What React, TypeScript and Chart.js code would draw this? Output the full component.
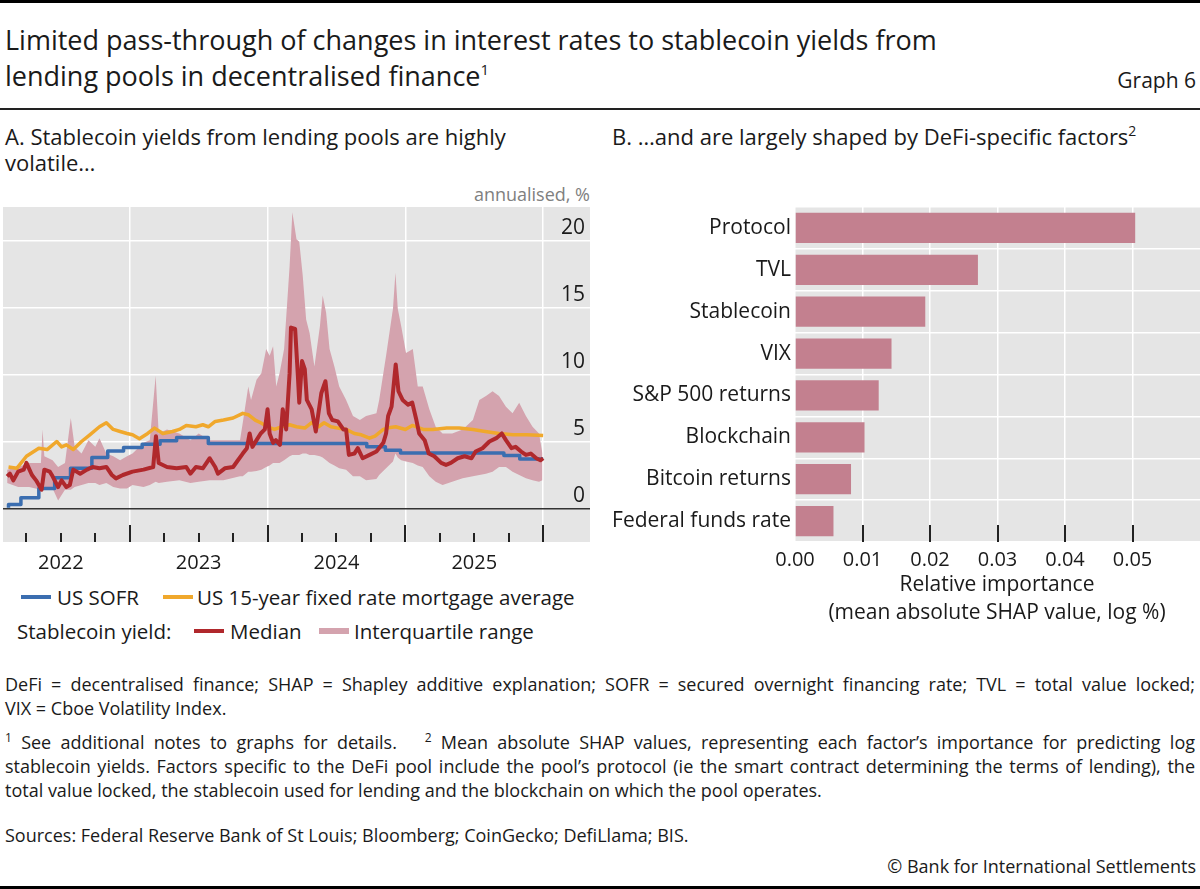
import React, { useEffect, useRef } from "react";
import { Chart, registerables } from "chart.js";

Chart.register(...registerables);

const FONT = '"Open Sans", "Noto Sans", sans-serif';
const INK = "#1a1a1a";

// Panel A – dates as decimal years, values in % annualised
const sofrDates = [2022.12, 2022.21, 2022.34, 2022.455, 2022.57, 2022.725, 2022.84, 2022.955, 2023.09, 2023.22, 2023.34, 2023.57, 2024.72, 2024.855, 2024.965, 2025.715, 2025.83, 2025.945, 2026.0];
const sofrRate = [0.05, 0.3, 0.8, 1.5, 2.3, 3.0, 3.8, 4.3, 4.55, 4.8, 5.05, 5.3, 4.85, 4.6, 4.35, 4.15, 3.95, 3.7, 3.7];

const mortgageDates = [2022.12, 2022.18, 2022.25, 2022.34, 2022.4, 2022.47, 2022.505, 2022.54, 2022.59, 2022.65, 2022.71, 2022.78, 2022.83, 2022.88, 2022.93, 2022.98, 2023.02, 2023.07, 2023.13, 2023.18, 2023.24, 2023.31, 2023.36, 2023.41, 2023.48, 2023.53, 2023.57, 2023.62, 2023.68, 2023.75, 2023.82, 2023.86, 2023.91, 2023.95, 2024.0, 2024.05, 2024.1, 2024.16, 2024.21, 2024.27, 2024.32, 2024.37, 2024.41, 2024.46, 2024.51, 2024.57, 2024.63, 2024.68, 2024.74, 2024.78, 2024.84, 2024.89, 2024.93, 2025.0, 2025.05, 2025.13, 2025.2, 2025.3, 2025.39, 2025.49, 2025.58, 2025.68, 2025.78, 2025.88, 2026.0];
const mortgageRate = [3.1, 3.0, 3.9, 4.5, 4.4, 5.0, 4.6, 4.75, 4.4, 5.0, 5.5, 6.1, 6.4, 5.9, 5.75, 5.6, 5.5, 5.2, 5.6, 6.0, 5.6, 5.75, 5.9, 6.2, 6.1, 6.25, 6.1, 6.5, 6.6, 6.75, 7.1, 7.0, 6.6, 6.4, 6.1, 5.9, 6.1, 6.25, 6.1, 6.0, 6.4, 6.1, 6.4, 6.1, 6.0, 5.9, 5.6, 5.5, 5.25, 5.4, 5.9, 6.05, 6.1, 5.9, 6.2, 5.9, 5.9, 6.0, 6.0, 5.9, 5.75, 5.6, 5.5, 5.5, 5.45];

const medianDates = [2022.11, 2022.13, 2022.155, 2022.19, 2022.23, 2022.25, 2022.29, 2022.32, 2022.36, 2022.38, 2022.42, 2022.44, 2022.48, 2022.505, 2022.54, 2022.565, 2022.59, 2022.64, 2022.69, 2022.73, 2022.78, 2022.83, 2022.87, 2022.9, 2022.95, 2023.02, 2023.1, 2023.17, 2023.19, 2023.21, 2023.27, 2023.34, 2023.41, 2023.44, 2023.48, 2023.53, 2023.58, 2023.62, 2023.64, 2023.69, 2023.75, 2023.785, 2023.82, 2023.85, 2023.87, 2023.89, 2023.92, 2023.95, 2023.98, 2024.0, 2024.015, 2024.04, 2024.06, 2024.09, 2024.11, 2024.135, 2024.16, 2024.17, 2024.2, 2024.22, 2024.23, 2024.25, 2024.27, 2024.285, 2024.32, 2024.35, 2024.39, 2024.42, 2024.445, 2024.47, 2024.51, 2024.55, 2024.57, 2024.59, 2024.63, 2024.655, 2024.69, 2024.74, 2024.79, 2024.84, 2024.86, 2024.875, 2024.9, 2024.93, 2024.95, 2024.98, 2025.02, 2025.05, 2025.08, 2025.1, 2025.14, 2025.17, 2025.21, 2025.26, 2025.295, 2025.33, 2025.38, 2025.43, 2025.48, 2025.51, 2025.56, 2025.61, 2025.66, 2025.7, 2025.73, 2025.77, 2025.8, 2025.84, 2025.875, 2025.91, 2025.95, 2025.98, 2026.0];
const medianYield = [2.4, 2.6, 2.1, 2.75, 2.9, 3.4, 2.5, 2.1, 1.4, 2.9, 2.75, 2.4, 1.6, 2.1, 1.6, 1.75, 2.9, 2.6, 2.9, 3.1, 3.0, 3.1, 2.5, 2.25, 2.5, 2.75, 2.9, 3.1, 5.4, 3.4, 3.1, 3.0, 3.1, 2.6, 3.1, 3.0, 3.75, 3.1, 2.6, 3.0, 3.1, 3.6, 4.1, 4.5, 5.6, 4.6, 5.1, 5.6, 5.9, 7.4, 5.6, 4.9, 5.1, 4.75, 7.4, 5.9, 10.1, 13.5, 13.4, 9.9, 7.9, 11.0, 10.4, 8.1, 7.4, 5.75, 8.6, 9.5, 7.1, 6.6, 6.5, 5.9, 5.9, 4.0, 4.1, 4.5, 3.75, 4.0, 4.25, 4.9, 5.6, 6.9, 7.6, 10.75, 8.75, 8.1, 7.75, 7.9, 6.6, 5.6, 5.1, 4.1, 3.9, 3.4, 3.25, 3.4, 3.75, 3.9, 3.75, 4.25, 4.5, 5.0, 5.25, 5.6, 5.1, 4.5, 4.6, 4.25, 4.0, 4.1, 3.75, 3.6, 3.75];

const iqrDates = [2022.11, 2022.19, 2022.27, 2022.355, 2022.367, 2022.38, 2022.44, 2022.48, 2022.53, 2022.572, 2022.6, 2022.65, 2022.7, 2022.75, 2022.78, 2022.83, 2022.88, 2022.93, 2022.98, 2023.02, 2023.1, 2023.145, 2023.188, 2023.21, 2023.27, 2023.36, 2023.44, 2023.5, 2023.58, 2023.68, 2023.8, 2023.82, 2023.86, 2023.88, 2023.92, 2023.955, 2023.99, 2024.015, 2024.04, 2024.063, 2024.087, 2024.12, 2024.16, 2024.18, 2024.21, 2024.23, 2024.255, 2024.28, 2024.305, 2024.34, 2024.38, 2024.4, 2024.425, 2024.45, 2024.485, 2024.52, 2024.57, 2024.62, 2024.67, 2024.715, 2024.79, 2024.81, 2024.86, 2024.91, 2024.928, 2024.945, 2024.97, 2025.005, 2025.054, 2025.09, 2025.126, 2025.174, 2025.22, 2025.27, 2025.34, 2025.416, 2025.49, 2025.537, 2025.585, 2025.633, 2025.68, 2025.73, 2025.778, 2025.826, 2025.875, 2025.923, 2025.97, 2025.995];
const iqrUpper = [2.9, 3.1, 3.4, 3.4, 5.9, 3.9, 3.6, 3.1, 3.4, 6.75, 4.6, 4.1, 5.1, 4.6, 5.25, 4.1, 3.9, 3.6, 3.9, 4.1, 4.9, 5.1, 9.9, 5.6, 5.9, 5.6, 5.1, 5.6, 5.1, 5.1, 5.1, 6.4, 9.1, 8.1, 9.6, 10.1, 11.9, 11.4, 12.1, 9.1, 10.1, 11.9, 18.1, 22.1, 20.1, 19.9, 17.4, 14.1, 13.1, 10.6, 13.6, 15.9, 14.6, 11.9, 10.6, 9.1, 8.1, 6.9, 6.6, 6.9, 7.1, 8.1, 11.4, 14.9, 17.6, 14.9, 13.6, 11.6, 11.9, 9.1, 9.1, 7.4, 6.1, 5.6, 5.6, 5.9, 6.6, 8.1, 8.4, 8.75, 8.4, 7.6, 7.1, 7.9, 6.9, 6.1, 5.6, 4.1];
const iqrLower = [1.9, 1.6, 1.6, 1.4, 1.25, 1.6, 1.5, 0.6, 1.4, 1.4, 1.6, 1.75, 1.9, 1.9, 1.75, 1.9, 1.6, 1.5, 1.5, 1.75, 1.6, 1.75, 2.0, 1.9, 2.0, 2.1, 1.9, 2.0, 2.1, 2.1, 2.4, 2.4, 2.75, 2.75, 2.8, 2.9, 3.1, 3.2, 3.4, 3.4, 3.4, 3.6, 3.9, 4.0, 4.0, 4.0, 4.1, 4.1, 4.0, 4.0, 3.9, 3.8, 3.6, 3.4, 3.2, 3.0, 2.9, 2.4, 2.4, 2.1, 2.2, 2.5, 3.0, 3.5, 4.1, 3.8, 3.6, 3.5, 3.4, 3.2, 3.1, 2.4, 2.0, 1.75, 2.0, 2.25, 2.4, 2.5, 2.6, 2.75, 3.1, 3.1, 2.75, 2.5, 2.25, 2.1, 2.0, 2.1];

const quarterTicks = [2022.25, 2022.5, 2022.75, 2023.0, 2023.25, 2023.5, 2023.75, 2024.0, 2024.25, 2024.5, 2024.75, 2025.0, 2025.25, 2025.5, 2025.75, 2026.0];
const yearLabels = ["2022", "2023", "2024", "2025"];
const yieldTicks = [0, 5, 10, 15, 20];

// Panel B – mean absolute SHAP values
const factors = ["Protocol", "TVL", "Stablecoin", "VIX", "S&P 500 returns", "Blockchain", "Bitcoin returns", "Federal funds rate"];
const importance = [0.0504, 0.0271, 0.0193, 0.0143, 0.0124, 0.0103, 0.0083, 0.0057];
const importanceTicks = [0, 0.01, 0.02, 0.03, 0.04, 0.05];

const BLUE = "#3b6eb0";
const ORANGE = "#f0a82c";
const RED = "#b0282c";
const BAND = "#d4a3ae";
const BAR = "#c3808f";
const PLOT_BG = "#e5e5e5";

const pts = (xs: number[], ys: number[]) => xs.map((x, i) => ({ x, y: ys[i] }));

const panelAPlugin = {
    id: "panelA",
    beforeDraw(chart: any) {
        const { ctx, chartArea: a } = chart;
        ctx.save();
        ctx.fillStyle = PLOT_BG;
        ctx.fillRect(a.left, a.top, a.width, a.height);
        ctx.restore();
    },
    afterDraw(chart: any) {
        const { ctx, chartArea: a, scales } = chart;
        const x = scales.x;
        const y = scales.y;
        ctx.save();
        // tick marks sit inside the plot, along the bottom
        ctx.strokeStyle = "#222";
        ctx.lineWidth = 2;
        x.ticks.forEach((t: any) => {
            const px = Math.round(x.getPixelForValue(t.value));
            const major = Number.isInteger(t.value);
            ctx.beginPath();
            ctx.moveTo(px, a.bottom);
            ctx.lineTo(px, a.bottom - (major ? 17 : 9));
            ctx.stroke();
        });
        ctx.fillStyle = INK;
        ctx.font = `20px ${FONT}`;
        ctx.textAlign = "center";
        ctx.textBaseline = "middle";
        yearLabels.forEach((l) => ctx.fillText(l, x.getPixelForValue(Number(l) + 0.5), a.bottom + 21));
        ctx.font = `21px ${FONT}`;
        ctx.textAlign = "right";
        ctx.textBaseline = "alphabetic";
        y.ticks.forEach((t: any) => ctx.fillText(String(t.value), a.right - 5, y.getPixelForValue(t.value) - 7));
        ctx.restore();
    },
};

const panelBPlugin = {
    id: "panelB",
    beforeDraw(chart: any) {
        const { ctx, chartArea: a } = chart;
        ctx.save();
        ctx.fillStyle = PLOT_BG;
        ctx.fillRect(a.left, a.top, a.width, a.height);
        ctx.restore();
    },
    afterDatasetsDraw(chart: any) {
        const { ctx, chartArea: a, scales } = chart;
        ctx.save();
        ctx.strokeStyle = "#222";
        ctx.lineWidth = 2;
        importanceTicks.slice(1).forEach((v) => {
            const px = Math.round(scales.x.getPixelForValue(v));
            ctx.beginPath();
            ctx.moveTo(px, a.bottom);
            ctx.lineTo(px, a.bottom - 17);
            ctx.stroke();
        });
        ctx.restore();
    },
};

function YieldPanel() {
    const canvas = useRef<HTMLCanvasElement>(null);

    useEffect(() => {
        const chart = new Chart(canvas.current!, {
            type: "line",
            data: {
                datasets: [
                    { data: pts(medianDates, medianYield), borderColor: RED, borderWidth: 4, fill: false },
                    { data: pts(sofrDates, sofrRate), borderColor: BLUE, borderWidth: 3.5, stepped: "after", fill: false },
                    { data: pts(mortgageDates, mortgageRate), borderColor: ORANGE, borderWidth: 3.5, fill: false },
                    { data: pts(iqrDates, iqrUpper), borderColor: "transparent", borderWidth: 0, backgroundColor: BAND, fill: "+1" },
                    { data: pts(iqrDates, iqrLower), borderColor: "transparent", borderWidth: 0, backgroundColor: BAND, fill: false },
                ],
            },
            options: {
                responsive: false,
                animation: false,
                layout: { padding: { left: 3, right: 10, top: 7, bottom: 38 } },
                elements: { point: { radius: 0 }, line: { tension: 0, borderJoinStyle: "round" } },
                scales: {
                    x: {
                        type: "linear",
                        min: 2022.08,
                        max: 2026.34,
                        afterBuildTicks: (s: any) => {
                            s.ticks = quarterTicks.map((v) => ({ value: v }));
                        },
                        grid: {
                            color: (c: any) => (c.tick && Number.isInteger(c.tick.value) ? "#ffffff" : "transparent"),
                            lineWidth: 1.5,
                            drawTicks: false,
                        },
                        border: { display: false },
                        ticks: { display: false },
                    },
                    y: {
                        position: "right",
                        min: -2.5,
                        max: 22.5,
                        afterBuildTicks: (s: any) => {
                            s.ticks = yieldTicks.map((v) => ({ value: v }));
                        },
                        grid: {
                            color: (c: any) => (c.tick && c.tick.value === 0 ? "#333333" : "#ffffff"),
                            lineWidth: 1.5,
                            drawTicks: false,
                        },
                        border: { display: false },
                        ticks: { display: false },
                    },
                },
                plugins: { legend: { display: false }, tooltip: { enabled: false } },
            },
            plugins: [panelAPlugin],
        });
        return () => chart.destroy();
    }, []);

    return <canvas ref={canvas} width={600} height={380} style={{ position: "absolute", left: 0, top: 200, width: 600, height: 380 }} />;
}

function FactorPanel() {
    const canvas = useRef<HTMLCanvasElement>(null);

    useEffect(() => {
        const chart = new Chart(canvas.current!, {
            type: "bar",
            data: {
                labels: factors,
                datasets: [{ data: importance, backgroundColor: BAR, barPercentage: 0.72, categoryPercentage: 1 }],
            },
            options: {
                indexAxis: "y",
                responsive: false,
                animation: false,
                layout: { padding: { top: 7, right: 0, left: 0, bottom: 0 } },
                scales: {
                    x: {
                        min: 0,
                        max: 0.06,
                        afterBuildTicks: (s: any) => {
                            s.ticks = importanceTicks.map((v) => ({ value: v }));
                        },
                        afterFit: (s: any) => {
                            s.height = 88;
                        },
                        grid: { color: "#ffffff", lineWidth: 1.5, drawTicks: false },
                        border: { display: false },
                        ticks: {
                            font: { family: FONT, size: 20 },
                            color: INK,
                            padding: 6,
                            callback: (v: any) => Number(v).toFixed(2),
                        },
                    },
                    y: {
                        afterFit: (s: any) => {
                            s.width = 195;
                            s.paddingTop = 0;
                            s.paddingBottom = 0;
                        },
                        grid: { color: "#ffffff", lineWidth: 1.5, offset: true, drawTicks: false },
                        border: { display: false },
                        ticks: { font: { family: FONT, size: 21 }, color: INK, padding: 4 },
                    },
                },
                plugins: { legend: { display: false }, tooltip: { enabled: false } },
            },
            plugins: [panelBPlugin],
        });
        return () => chart.destroy();
    }, []);

    return <canvas ref={canvas} width={600} height={430} style={{ position: "absolute", left: 600, top: 200, width: 600, height: 430 }} />;
}

function Txt(props: { x: number; cy: number; size: number; lh?: number; color?: string; align?: "left" | "right" | "center"; children: React.ReactNode }) {
    const lh = props.lh ?? Math.round(props.size * 1.4);
    const style: React.CSSProperties = {
        position: "absolute",
        top: props.cy - lh / 2,
        fontSize: props.size,
        lineHeight: `${lh}px`,
        color: props.color ?? INK,
        whiteSpace: "nowrap",
    };
    if (props.align === "right") {
        style.right = 1200 - props.x;
    } else if (props.align === "center") {
        style.left = props.x - 300;
        style.width = 600;
        style.textAlign = "center";
    } else {
        style.left = props.x;
    }
    return <div style={style}>{props.children}</div>;
}

function Justified(props: { cy: number; children: React.ReactNode }) {
    return (
        <div style={{ position: "absolute", left: 5, width: 1190, top: props.cy - 12, fontSize: 18, lineHeight: "24px", textAlign: "justify", textAlignLast: "justify", whiteSpace: "nowrap" }}>
            {props.children}
        </div>
    );
}

function Swatch(props: { x: number; cy: number; color: string; h?: number }) {
    const h = props.h ?? 4;
    return <div style={{ position: "absolute", left: props.x, top: props.cy - h / 2, width: 30, height: h, background: props.color }} />;
}

const sup = (s: string, size = 13, lift = 9) => <span style={{ fontSize: size, position: "relative", top: -lift }}>{s}</span>;

export default function App() {
    useEffect(() => {
        document.body.style.margin = "0";
    }, []);

    return (
        <div style={{ position: "relative", width: 1200, height: 889, background: "#fff", fontFamily: FONT, color: INK, overflow: "hidden" }}>
            <div style={{ position: "absolute", left: 0, top: 0, width: 1200, height: 3, background: "#000" }} />
            <Txt x={5} cy={40} size={27}>Limited pass-through of changes in interest rates to stablecoin yields from</Txt>
            <Txt x={5} cy={76} size={27}>lending pools in decentralised finance{sup("1", 15, 11)}</Txt>
            <Txt x={1196} cy={80} size={21} align="right">Graph 6</Txt>
            <div style={{ position: "absolute", left: 0, top: 108, width: 1200, height: 1.5, background: "#222" }} />

            <Txt x={5} cy={136} size={22}>A. Stablecoin yields from lending pools are highly</Txt>
            <Txt x={5} cy={162} size={22}>volatile…</Txt>
            <Txt x={590} cy={194} size={18} align="right" color="#808080">annualised, %</Txt>
            <Txt x={612} cy={136} size={22}>B. …and are largely shaped by DeFi-specific factors{sup("2", 14, 9)}</Txt>

            <YieldPanel />
            <FactorPanel />

            <Txt x={997} cy={583} size={21} align="center">Relative importance</Txt>
            <Txt x={997} cy={611} size={21} align="center">(mean absolute SHAP value, log %)</Txt>

            <Swatch x={21} cy={597} color={BLUE} />
            <Txt x={57} cy={597} size={20.5}>US SOFR</Txt>
            <Swatch x={163} cy={597} color={ORANGE} />
            <Txt x={197} cy={597} size={20.5}>US 15-year fixed rate mortgage average</Txt>
            <Txt x={17} cy={631} size={20.5}>Stablecoin yield:</Txt>
            <Swatch x={194} cy={631} color={RED} />
            <Txt x={230} cy={631} size={20.5}>Median</Txt>
            <Swatch x={319} cy={631} color={BAND} h={6} />
            <Txt x={354} cy={631} size={20.5}>Interquartile range</Txt>

            <Justified cy={684}>DeFi = decentralised finance; SHAP = Shapley additive explanation; SOFR = secured overnight financing rate; TVL = total value locked;</Justified>
            <Txt x={5} cy={708} size={18} lh={24}>VIX = Cboe Volatility Index.</Txt>
            <Justified cy={742}>
                {sup("1", 12, 7)} See additional notes to graphs for details.&nbsp;&nbsp; {sup("2", 12, 7)} Mean absolute SHAP values, representing each factor’s importance for predicting log
            </Justified>
            <Justified cy={766}>stablecoin yields. Factors specific to the DeFi pool include the pool’s protocol (ie the smart contract determining the terms of lending), the</Justified>
            <Txt x={5} cy={790} size={18} lh={24}>total value locked, the stablecoin used for lending and the blockchain on which the pool operates.</Txt>
            <Txt x={5} cy={835} size={18} lh={24}>Sources: Federal Reserve Bank of St Louis; Bloomberg; CoinGecko; DefiLlama; BIS.</Txt>
            <Txt x={1196} cy={866} size={18} lh={24} align="right">© Bank for International Settlements</Txt>
            <div style={{ position: "absolute", left: 0, top: 886, width: 1200, height: 3, background: "#000" }} />
        </div>
    );
}
